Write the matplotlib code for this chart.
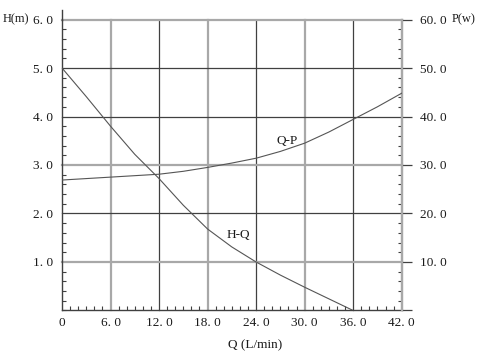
import numpy as np
import matplotlib
matplotlib.use("Agg")
import matplotlib.pyplot as plt
from matplotlib.ticker import MultipleLocator, FixedLocator

# ---- data ----
q_hq = [0, 3, 6, 9, 12, 15, 18, 21, 24, 27, 30, 33, 36]
h_hq = [5.0, 4.41, 3.80, 3.22, 2.72, 2.17, 1.68, 1.31, 1.0, 0.73, 0.48, 0.24, 0.0]

q_qp = [0, 3, 6, 9, 12, 15, 18, 21, 24, 27, 30, 33, 36, 39, 42]
p_qp = [26.9, 27.2, 27.5, 27.8, 28.1, 28.7, 29.5, 30.4, 31.4, 32.8, 34.5, 36.8, 39.4, 42.0, 44.8]

x_ticks = [0, 6, 12, 18, 24, 30, 36, 42]
h_ticks = [1, 2, 3, 4, 5, 6]
p_ticks = [10, 20, 30, 40, 50, 60]

def fmt(v):
    return f"{v:.1f}".replace(".", ". ")

plt.rcParams['font.family'] = ['Liberation Serif', 'DejaVu Serif']

dark = '#404040'
light = '#a8a8a8'
txt = '#1a1a1a'

fig = plt.figure(figsize=(4.87, 3.54), dpi=100)
ax = fig.add_axes([0.1273, 0.1229, 0.6975, 0.822])
ax.set_xlim(0, 42)
ax.set_ylim(0, 6)

# grid lines, alternating shades
vcol = {6: light, 12: dark, 18: light, 24: dark, 30: light, 36: dark, 42: light}
hcol = {1: light, 2: dark, 3: light, 4: dark, 5: dark, 6: light}
for x, c in vcol.items():
    ax.axvline(x, color=c, lw=1.6 if c == light else 0.9, zorder=1, clip_on=False)
for y, c in hcol.items():
    ax.axhline(y, color=c, lw=1.6 if c == light else 0.9, zorder=1, clip_on=False)

ax.plot(q_hq, h_hq, color='#555555', lw=0.8, zorder=3)

for s in ['top', 'right']:
    ax.spines[s].set_visible(False)
ax.spines['left'].set_color(dark)
ax.spines['bottom'].set_color(dark)
ax.spines['left'].set_linewidth(1.0)
ax.spines['bottom'].set_linewidth(1.0)
ax.plot([0, 0], [6, 6.19], color=dark, lw=1.0, clip_on=False)

ax.xaxis.set_major_locator(FixedLocator(x_ticks))
ax.set_xticklabels(["0"] + [fmt(v) for v in x_ticks[1:]])
ax.xaxis.set_minor_locator(MultipleLocator(1))
ax.yaxis.set_major_locator(FixedLocator(h_ticks))
ax.set_yticklabels([fmt(v) for v in h_ticks])
ax.yaxis.set_minor_locator(MultipleLocator(0.2))
ax.tick_params(axis='x', which='major', length=0, pad=5, labelsize=9.5, colors=txt)
ax.tick_params(axis='y', which='major', length=0, pad=6.5, labelsize=9.5, colors=txt)
ax.tick_params(which='minor', direction='in', length=3, width=0.8, color=dark)

ax2 = ax.twinx()
ax2.set_ylim(0, 60)
for s in ['top', 'left', 'bottom']:
    ax2.spines[s].set_visible(False)
ax2.spines['right'].set_color(light)
ax2.spines['right'].set_linewidth(1.6)
ax2.plot(q_qp, p_qp, color='#555555', lw=0.8, zorder=3)
ax2.yaxis.set_major_locator(FixedLocator([0] + p_ticks))
ax2.set_yticklabels([""] + [fmt(v) for v in p_ticks])
ax2.yaxis.set_minor_locator(MultipleLocator(2))
ax2.tick_params(axis='y', which='major', direction='out', length=7, width=0.9, color=dark,
                pad=6, labelsize=9.5, labelcolor=txt)
ax2.tick_params(axis='y', which='minor', direction='in', length=3, width=0.8, color=dark)

fig.text(3 / 487, 1 - 19.5 / 354, "H(m)", fontsize=9, va='center', ha='left', color=txt)
fig.text(452 / 487, 1 - 19.5 / 354, "P(w)", fontsize=9, va='center', ha='left', color=txt)
fig.text(255 / 487, 1 - 345 / 354, "Q (L/min)", fontsize=9.5, va='center', ha='center', color=txt)

ax.text(27.8, 3.5, "Q-P", fontsize=9.5, ha='center', va='center', color=txt)
ax.text(21.8, 1.55, "H-Q", fontsize=9.5, ha='center', va='center', color=txt)

fig.savefig("out.png", dpi=100)
